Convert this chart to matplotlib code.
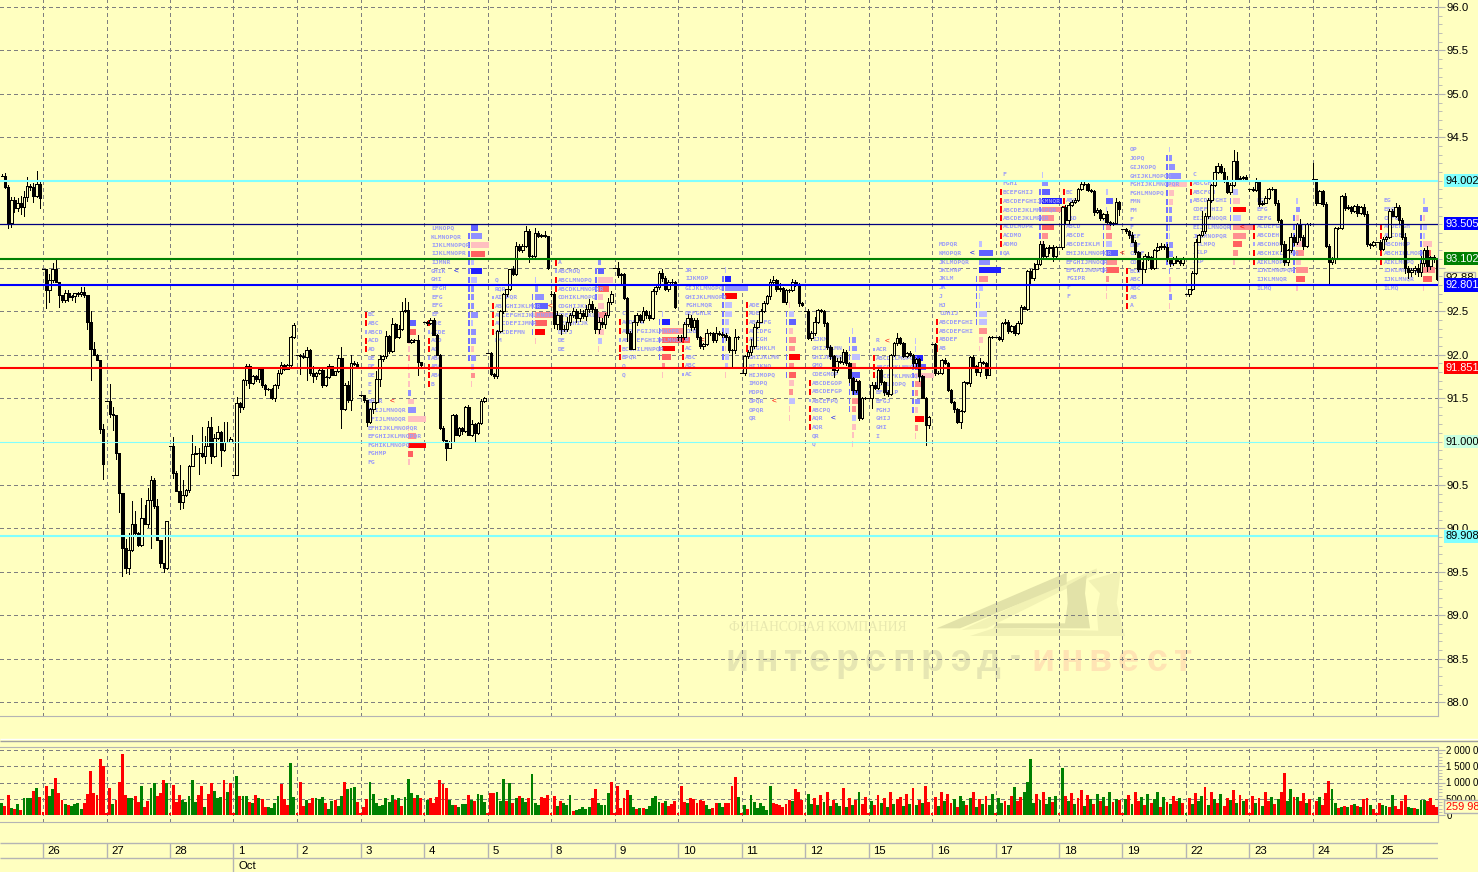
import numpy as np
import matplotlib
matplotlib.use("Agg")
import matplotlib.pyplot as plt
from matplotlib.patches import Polygon

W, H = 1478, 872
BG = "#ffffc0"
GRAY = "#b4b4b4"
GRID = "#7f7f7f"

day_labels = ["26", "27", "28", "1", "2", "3", "4", "5", "8", "9", "10", "11",
              "12", "15", "16", "17", "18", "19", "22", "23", "24", "25"]

# one list per session, first one is the part day on the left edge
close_days = [
    [94.06, 93.93, 93.52, 93.78, 93.69, 93.75, 93.70, 93.81, 93.94, 93.93, 93.83, 93.96, 93.80],
    [92.99, 92.74, 92.86, 92.99, 92.83, 92.69, 92.63, 92.71, 92.66, 92.68, 92.71, 92.70, 92.72, 92.69, 92.38, 92.07, 91.99, 91.94, 91.14, 90.74],
    [91.47, 91.32, 91.31, 90.87, 90.41, 89.78, 89.55, 89.75, 90.05, 89.95, 89.81, 90.12, 90.05, 90.33, 90.56, 90.26, 89.87, 89.60, 89.54, 90.08],
    [90.95, 90.64, 90.43, 90.30, 90.39, 90.44, 90.72, 90.86, 90.87, 90.87, 90.83, 90.95, 91.17, 90.83, 91.04, 91.11, 90.90, 91.00, 91.00, 91.03],
    [90.62, 91.44, 91.40, 91.71, 91.87, 91.67, 91.75, 91.72, 91.83, 91.65, 91.60, 91.60, 91.50, 91.65, 91.79, 91.88, 91.84, 91.88, 92.20, 92.34],
    [92.00, 91.98, 91.97, 92.05, 91.79, 91.75, 91.79, 91.82, 91.65, 91.74, 91.87, 91.77, 91.81, 91.96, 91.37, 91.65, 91.48, 91.90, 91.89, 91.87],
    [91.53, 91.48, 91.23, 91.37, 91.45, 91.72, 91.95, 91.98, 92.21, 92.04, 92.35, 92.20, 92.29, 92.50, 92.51, 92.15, 92.17, 92.17, 91.91, 91.88],
    [92.38, 92.36, 92.40, 92.23, 92.00, 91.15, 91.02, 90.93, 91.00, 91.31, 91.08, 91.15, 91.12, 91.40, 91.08, 91.20, 91.10, 91.21, 91.47, 91.50],
    [92.02, 91.78, 91.75, 92.27, 92.50, 92.70, 92.75, 92.98, 92.93, 93.25, 93.20, 93.25, 93.42, 93.13, 93.13, 93.40, 93.36, 93.38, 93.36, 93.00],
    [92.70, 92.35, 92.45, 92.30, 92.30, 92.38, 92.45, 92.50, 92.42, 92.48, 92.44, 92.52, 92.58, 92.52, 92.30, 92.38, 92.35, 92.45, 92.60, 92.70],
    [93.00, 92.92, 92.93, 92.65, 92.25, 92.07, 92.38, 92.45, 92.40, 92.50, 92.45, 92.42, 92.73, 92.78, 92.94, 92.88, 92.75, 92.84, 92.83, 92.55],
    [92.20, 92.20, 92.35, 92.42, 92.32, 92.40, 92.20, 92.10, 92.12, 92.25, 92.25, 92.17, 92.25, 92.24, 92.22, 92.20, 92.05, 92.05, 92.20, 92.20],
    [91.79, 91.98, 92.03, 92.10, 92.32, 92.38, 92.50, 92.59, 92.67, 92.84, 92.86, 92.75, 92.77, 92.61, 92.74, 92.74, 92.84, 92.80, 92.59, 92.57],
    [92.50, 92.19, 92.25, 92.38, 92.51, 92.50, 92.36, 92.09, 91.98, 91.82, 91.93, 91.92, 92.03, 91.90, 91.73, 91.59, 91.70, 91.27, 91.50, 91.50],
    [91.50, 91.65, 91.62, 91.82, 91.68, 91.57, 91.55, 92.00, 92.13, 92.19, 92.13, 91.98, 92.02, 92.00, 91.90, 91.95, 91.75, 91.50, 91.19, 91.28],
    [92.12, 91.79, 91.79, 91.94, 91.90, 91.59, 91.46, 91.37, 91.22, 91.35, 91.68, 91.67, 91.97, 91.87, 91.80, 91.92, 91.90, 91.77, 92.20, 92.20],
    [92.20, 92.18, 92.36, 92.38, 92.27, 92.33, 92.25, 92.36, 92.55, 92.53, 92.96, 92.88, 92.99, 93.04, 93.27, 93.13, 93.23, 93.24, 93.13, 93.24],
    [93.24, 93.70, 93.55, 93.72, 93.76, 93.78, 93.90, 93.96, 93.96, 93.89, 93.88, 93.64, 93.66, 93.57, 93.62, 93.53, 93.50, 93.52, 93.76, 93.67],
    [93.44, 93.42, 93.38, 93.30, 93.18, 92.98, 92.98, 93.14, 93.12, 93.00, 93.20, 93.24, 93.25, 93.24, 93.10, 93.05, 93.10, 93.08, 93.05, 93.10],
    [92.70, 92.75, 92.94, 93.30, 93.38, 93.42, 93.60, 93.78, 93.95, 94.10, 94.17, 94.10, 94.00, 93.87, 93.95, 94.23, 94.02, 94.03, 94.04, 94.02],
    [93.90, 93.89, 93.99, 93.73, 93.75, 93.80, 93.90, 93.90, 93.75, 93.55, 93.27, 93.06, 93.20, 93.35, 93.30, 93.50, 93.35, 93.25, 93.50, 93.50],
    [94.02, 93.75, 93.88, 93.73, 93.25, 93.06, 93.10, 93.46, 93.46, 93.83, 93.69, 93.70, 93.65, 93.71, 93.63, 93.70, 93.62, 93.27, 93.26, 93.30],
    [93.30, 93.21, 93.33, 93.35, 93.65, 93.60, 93.70, 93.55, 93.35, 93.00, 92.95, 92.97, 93.00, 92.95, 93.05, 93.20, 93.02, 93.12, 93.10, 92.87],
]

# wick lengths in cents above and below the body
wick_up_days = [
    [2, 3, 2, 3, 3, 5, 8, 7, 10, 2, 5, 15, 4],
    [0, 0, 7, 6, 11, 0, 0, 3, 3, 1, 0, 1, 6, 6, 0, 12, 7, 2, 0, 6],
    [0, 19, 8, 0, 0, 0, 10, 20, 26, 15, 1, 23, 15, 14, 4, 2, 8, 0, 0, 1],
    [0, 10, 2, 30, 17, 1, 1, 22, 8, 5, 30, 11, 7, 11, 5, 7, 1, 22, 23, 2],
    [0, 7, 1, 1, 2, 2, 1, 2, 1, 1, 1, 1, 1, 1, 3, 3, 1, 1, 1, 2],
    [0, 1, 4, 4, 2, 8, 1, 2, 3, 1, 2, 0, 0, 3, 13, 2, 5, 9, 3, 2],
    [1, 1, 0, 1, 1, 9, 4, 2, 6, 2, 7, 1, 5, 10, 14, 9, 1, 1, 5, 1],
    [0, 1, 2, 2, 1, 1, 3, 0, 1, 1, 1, 2, 2, 1, 2, 5, 1, 2, 2, 1],
    [0, 1, 1, 1, 1, 1, 0, 1, 4, 5, 2, 2, 6, 2, 2, 6, 2, 1, 4, 1],
    [3, 2, 5, 2, 4, 5, 3, 4, 2, 5, 3, 5, 6, 4, 3, 5, 4, 3, 5, 3],
    [0, 7, 1, 1, 1, 2, 8, 3, 2, 5, 1, 5, 3, 2, 2, 4, 2, 2, 3, 2],
    [2, 3, 2, 5, 3, 2, 2, 1, 1, 5, 1, 1, 7, 2, 2, 3, 1, 1, 9, 1],
    [0, 1, 2, 8, 3, 2, 2, 3, 2, 3, 4, 1, 5, 1, 2, 2, 3, 2, 2, 1],
    [0, 3, 2, 5, 1, 1, 1, 1, 2, 2, 3, 4, 3, 2, 1, 1, 2, 1, 1, 1],
    [0, 3, 4, 1, 4, 2, 2, 1, 2, 6, 1, 2, 1, 2, 1, 1, 1, 1, 1, 1],
    [0, 1, 2, 1, 2, 2, 1, 1, 1, 1, 2, 1, 1, 2, 1, 4, 1, 1, 1, 1],
    [0, 1, 1, 3, 2, 1, 1, 3, 2, 1, 1, 2, 6, 5, 4, 4, 1, 2, 2, 1],
    [0, 1, 2, 2, 2, 2, 2, 3, 4, 2, 1, 1, 3, 2, 1, 3, 1, 1, 4, 1],
    [0, 2, 1, 3, 2, 1, 8, 2, 4, 2, 2, 4, 3, 2, 3, 1, 2, 3, 2, 2],
    [0, 1, 2, 3, 1, 23, 3, 2, 1, 7, 3, 2, 5, 5, 2, 13, 10, 2, 2, 3],
    [1, 3, 4, 1, 2, 3, 2, 3, 1, 3, 1, 4, 2, 5, 3, 2, 6, 3, 1, 1],
    [18, 0, 1, 1, 3, 2, 2, 1, 1, 1, 3, 2, 1, 1, 2, 1, 3, 3, 1, 1],
    [0, 2, 2, 2, 2, 3, 5, 2, 2, 5, 2, 3, 2, 4, 8, 3, 5, 2, 3, 1],
]
wick_dn_days = [
    [1, 1, 6, 5, 5, 4, 8, 10, 4, 4, 7, 2, 11],
    [0, 20, 13, 3, 0, 14, 2, 3, 4, 3, 7, 2, 2, 3, 8, 36, 0, 0, 4, 17],
    [0, 4, 18, 7, 22, 33, 6, 7, 1, 1, 1, 1, 0, 3, 55, 3, 0, 4, 4, 1],
    [0, 6, 0, 8, 6, 2, 2, 0, 0, 24, 1, 8, 0, 8, 1, 1, 18, 1, 1, 1],
    [0, 0, 6, 3, 6, 5, 1, 2, 3, 2, 6, 1, 1, 3, 3, 1, 2, 1, 2, 1],
    [0, 20, 1, 26, 3, 7, 3, 1, 2, 1, 1, 1, 1, 1, 22, 1, 3, 12, 1, 1],
    [1, 2, 5, 2, 4, 1, 8, 2, 2, 2, 1, 1, 1, 1, 1, 1, 2, 2, 14, 1],
    [0, 2, 1, 1, 1, 1, 1, 14, 1, 1, 1, 2, 3, 1, 1, 2, 10, 1, 1, 1],
    [0, 1, 2, 2, 1, 2, 3, 1, 1, 1, 1, 2, 1, 6, 2, 2, 1, 1, 1, 1],
    [2, 4, 5, 6, 3, 3, 4, 2, 5, 3, 2, 4, 3, 3, 5, 5, 3, 4, 2, 2],
    [0, 3, 10, 1, 9, 1, 1, 4, 2, 2, 3, 2, 1, 3, 2, 3, 1, 2, 2, 1],
    [3, 4, 2, 2, 4, 3, 2, 2, 3, 1, 2, 2, 2, 1, 2, 3, 2, 20, 3, 2],
    [0, 2, 2, 3, 2, 1, 1, 1, 1, 3, 3, 2, 2, 1, 3, 2, 1, 1, 3, 1],
    [0, 1, 2, 2, 2, 1, 3, 3, 3, 8, 2, 2, 3, 2, 5, 4, 2, 2, 1, 1],
    [0, 12, 2, 2, 2, 4, 3, 1, 2, 2, 1, 1, 1, 2, 3, 3, 5, 0, 23, 3],
    [0, 2, 1, 1, 1, 1, 2, 3, 1, 7, 1, 1, 3, 2, 3, 5, 1, 4, 1, 1],
    [0, 1, 2, 1, 2, 1, 2, 1, 1, 1, 2, 8, 2, 1, 1, 2, 1, 6, 5, 1],
    [0, 2, 4, 3, 1, 2, 1, 1, 1, 1, 1, 3, 1, 2, 1, 1, 1, 1, 1, 6],
    [0, 2, 4, 1, 2, 2, 17, 3, 3, 2, 1, 1, 3, 2, 2, 3, 2, 3, 2, 2],
    [0, 2, 1, 1, 1, 1, 2, 3, 2, 1, 1, 1, 1, 1, 2, 1, 2, 1, 1, 1],
    [2, 1, 1, 2, 1, 1, 1, 1, 3, 2, 8, 3, 3, 2, 4, 3, 3, 3, 1, 1],
    [0, 3, 1, 2, 1, 25, 2, 5, 1, 2, 3, 1, 2, 1, 3, 1, 2, 2, 3, 1],
    [0, 1, 1, 2, 1, 1, 2, 3, 2, 6, 7, 5, 4, 4, 5, 3, 6, 4, 3, 1],
]

vol_days = [
    [360, 280, 620, 230, 200, 340, 150, 530, 510, 510, 740, 840, 560],
    [100, 900, 570, 800, 1150, 690, 460, 340, 310, 280, 350, 380, 200, 380, 660, 1340, 690, 630, 1730, 1520],
    [70, 840, 340, 460, 1030, 1880, 620, 510, 510, 600, 410, 880, 260, 440, 840, 1000, 570, 690, 1080, 1000],
    [70, 930, 410, 620, 460, 410, 570, 1080, 410, 620, 900, 260, 650, 980, 750, 510, 560, 1080, 720, 1000],
    [70, 1200, 570, 600, 600, 410, 360, 630, 530, 480, 260, 240, 230, 380, 600, 960, 480, 300, 1600, 540],
    [70, 1030, 280, 460, 380, 530, 510, 500, 540, 380, 180, 440, 460, 290, 590, 1020, 800, 840, 870, 410],
    [70, 260, 490, 1020, 640, 380, 290, 320, 530, 410, 610, 460, 530, 290, 560, 1110, 680, 530, 610, 530],
    [70, 460, 530, 380, 560, 1070, 950, 840, 460, 310, 310, 260, 340, 340, 610, 460, 440, 660, 610, 400],
    [70, 680, 680, 710, 440, 1110, 440, 1000, 380, 510, 590, 510, 410, 530, 1270, 380, 320, 560, 510, 610],
    [70, 590, 290, 440, 380, 310, 610, 130, 150, 200, 260, 180, 240, 530, 790, 360, 310, 310, 680, 1020],
    [70, 890, 220, 530, 770, 610, 260, 200, 220, 220, 180, 290, 510, 590, 410, 380, 440, 290, 340, 440],
    [70, 900, 410, 360, 530, 480, 360, 460, 440, 310, 170, 220, 360, 380, 260, 360, 380, 900, 1170, 540],
    [70, 310, 180, 610, 410, 220, 380, 290, 150, 900, 360, 330, 300, 260, 330, 460, 440, 790, 710, 450],
    [70, 650, 330, 520, 300, 620, 410, 720, 280, 450, 380, 280, 820, 260, 520, 310, 450, 700, 340, 560],
    [70, 420, 310, 620, 370, 520, 260, 700, 330, 480, 540, 290, 640, 340, 820, 300, 460, 360, 880, 410],
    [70, 560, 290, 700, 430, 660, 380, 480, 240, 600, 420, 310, 530, 720, 260, 490, 340, 580, 300, 650],
    [70, 520, 380, 430, 310, 600, 850, 420, 550, 700, 1010, 1730, 380, 640, 460, 720, 350, 540, 410, 600],
    [70, 1450, 600, 430, 680, 340, 520, 760, 290, 610, 480, 350, 660, 420, 540, 280, 700, 390, 500, 450],
    [70, 480, 620, 350, 700, 430, 550, 300, 640, 380, 490, 720, 260, 560, 410, 330, 600, 440, 520, 370],
    [70, 520, 340, 680, 430, 590, 860, 310, 720, 480, 380, 640, 290, 530, 450, 770, 360, 610, 420, 500],
    [70, 600, 380, 520, 290, 700, 440, 560, 330, 480, 700, 1290, 440, 790, 550, 550, 420, 690, 380, 480],
    [70, 420, 550, 310, 690, 1060, 810, 380, 230, 260, 290, 240, 310, 340, 290, 260, 480, 510, 320, 200],
    [50, 380, 320, 290, 260, 630, 290, 175, 440, 630, 260, 230, 230, 200, 470, 470, 440, 530, 310, 260],
]
vol_col_days = [
    "grrgrgrgggrgr",
    "rrggrrrgrggggrrrrrrr",
    "rrgrrrrggrrgrrggrrrg",
    "rrrrgggggrrgrrgggrgr",
    "rgrggrgrgrrggggrrrgg",
    "rrrgrrgggrggrggrgggr",
    "rrrggggggggrgrgggrgr",
    "rgrrrrrrggrgggrgrggg",
    "rrrgggrgrgrggrgggrrr",
    "rrgrgggrgggggrrggggr",
    "rrrrrggrgrgggggrgrrr",
    "rrrgrrrrrggrrggrrrrg",
    "rgrgggggggrrrrrrgrrr",
    "rggrgrgrgrggrgrgrgrr",
    "rgrrgrgrgrrgrgrgrgrr",
    "rrgrgrrgrggrgrgrgrgg",
    "rggrgrgrrggggrgrggrg",
    "rgrgrgrrgrgrgrgrgrgr",
    "rgrgrrgrgrggrgrgrrgr",
    "grgrggrgrgrgrrgrgrgr",
    "rrgrgrrgrgrrggrgrrgr",
    "rrgrrrggrgrgrgrgrrgr",
    "rrggrgrrrrggrgggrrrr",
]

# horizontal levels with their labels on the price scale
level_values = [94.002, 93.505, 93.102, 92.801, 91.851, 91.000, 89.908]
level_colors = ["#80ffff", "#000080", "#008000", "#0000ff", "#ff0000", "#80ffff", "#80ffff"]
level_text_colors = ["black", "white", "white", "white", "white", "black", "black"]
level_box_colors = ["#80ffff", "#0000ff", "#008000", "#0000ff", "#ff0000", "#c8ffe0", "#80ffff"]
level_widths = [1.5, 0.9, 1.5, 1.5, 1.5, 0.8, 1.5]
level_labels = ["94.002", "93.505", "93.102", "92.801", "91.851", "91.000", "89.908"]

# letter profiles: session number, top price, rows
tpo_day = [5, 6, 7, 8, 9, 10, 11, 12, 13, 14, 15, 16, 17, 18, 19, 21]
tpo_top = [92.46, 93.46, 92.86, 93.06, 92.47, 92.97, 92.57, 92.27, 92.16, 93.27, 94.07, 93.87, 94.36, 94.07, 93.77, 93.77]
tpo_rows = [
    ["BC", "ABC", "ABCD", "ACD", "AD", "DE", "DE", "DE", "E", "E", "BHMR", "EFIJLMNOQR", "BFIJLMNOQR", "EFHIJKLMNOPQR", "EFGHIJKLMNOPQR", "FGHIKLMNOPQ", "FGHMP", "FG"],
    ["LMNOPQ", "KLMNOPQR", "IJKLMNOPQR", "IJKLMNOPR", "IJMNR", "GHIK", "GHI", "EFGH", "EFG", "EFG", "EF", "ADE", "ACDE", "ACD", "AC", "ABC", "ABC", "ABC", "B"],
    ["Q", "RQR", "AIJPQR", "ABFGHIJKLMQR", "ABCEFGHIJKLMNOPQ", "ABCDEFIJMNR", "ABCDEFMN", "DM"],
    ["A", "ABCMOQ", "ABCLMNOPQ", "ABCDKLMNOPQR", "CDHIKLMOPQ", "CDGHIJKLQ", "CDEFGHIJKLQ", "DEFGHIJK", "DEFJ", "DE", "DE"],
    ["C", "ACDEFR", "ABDEFGIJKLMNOPR", "ABCDEFGHIJKLMNOQ", "BCGHILMNPQR", "BPQR", "Q", "Q"],
    ["JR", "IJKMOP", "GIJKLMNOPQ", "GHIJKLMNOPQ", "FGHLMQR", "DEFGHLR", "DEH", "CDB", "B", "AC", "ABC", "ABC", "AC"],
    ["ADE", "ADEF", "ABCDFG", "ABCDFG", "ABCGH", "BCGHKLM", "GHIJKLMN", "HIJKNQ", "HIJMOPQ", "IMOPQ", "MOPQ", "OPQR", "OPQR", "QR"],
    ["J", "IJKM", "GHIJKLMN", "GHIJKLMN", "GMO", "CDEGMOP", "ABCDEGOP", "ABCDEFGP", "ABCEFPQ", "ABCPQ", "AQR", "AQR", "QR", "Q"],
    ["R", "ACR", "ABCDELMOPQR", "ABCDEKLMNOQR", "ABCEFKLMNOQR", "BJKLMOPQ", "BFJKLP", "BFGJ", "FGHJ", "GHIJ", "GHI", "I"],
    ["MOPQR", "KMOPQR", "JKLMOPQR", "JKLMNP", "JKLM", "JK", "J", "HJ", "CDHIJ", "ABCDEFGHI", "ABCDEFGHI", "ABDEF", "AB"],
    ["F", "FGHI", "BCEFGHIJ", "ABCDEFGHIJKMNQR", "ABCDEJKLMNOPQR", "ABCDEJKLMPQR", "ACDLMOPR", "ACDMO", "ADMO", "QA"],
    ["BC", "ABC", "A", "ABD", "ABCD", "ABCDE", "ABCDEIKLM", "EHIJKLMNOPQR", "EFGHIJMNOQR", "EFGHIJNOPQR", "FGIPR", "F", "F"],
    ["OP", "JOPQ", "GIJKOPQ", "GHIJKLMOPQR", "FGHIJKLMNOPQR", "FGHLMNOPQ", "FMN", "FM", "F", "F", "DEF", "DEF", "CDEF", "CDE", "BCD", "ABC", "ABC", "AB", "A"],
    ["C", "ABCGH", "ABCFGH", "ABCDEFGHI", "CDEFGHIJ", "EIJLMNOQR", "EIJKLMNOQR", "JKLMNOPQR", "JKLMPQ", "JKLP", "JKP"],
    ["EG", "EFG", "CEFG", "ACDEFGH", "ABCDEH", "ABCDHOP", "ABCHIKLMOPQ", "AIKLMOPQ", "IJKLMNOPQR", "IJKLMNQR", "ILMQ"],
    ["EG", "EFG", "CEFG", "ACDEFGH", "ABCDEH", "ABCDHOP", "ABCHIKLMOPQ", "AIKLMOPQ", "IJKLMNOPQR", "IJKLMNQR", "ILMQ"],
]
tpo_widths = [
    [2, 8, 8, 2, 2, 2, 1, 2, 2, 3, 6, 8, 18, 1, 8, 18, 5, 2],
    [7, 11, 18, 14, 3, 11, 6, 3, 3, 3, 7, 2, 5, 5, 3, 5, 3, 4, 1],
    [1, 3, 9, 13, 20, 12, 10, 1],
    [3, 6, 15, 11, 5, 6, 9, 4, 6, 4, 1],
    [1, 8, 25, 28, 13, 9, 3, 1],
    [1, 6, 23, 12, 7, 7, 4, 4, 1, 1, 4, 3, 1],
    [1, 5, 7, 4, 7, 6, 11, 5, 7, 5, 4, 6, 1, 1],
    [1, 4, 5, 8, 4, 8, 6, 9, 8, 4, 4, 4, 2, 1],
    [1, 1, 8, 11, 18, 9, 3, 5, 3, 9, 3, 1],
    [3, 14, 11, 22, 9, 4, 1, 1, 8, 8, 8, 4, 1],
    [1, 6, 8, 20, 22, 12, 12, 6, 2, 1],
    [2, 7, 1, 2, 5, 6, 6, 12, 11, 13, 3, 1, 1],
    [1, 3, 6, 12, 18, 5, 4, 3, 3, 1, 1, 4, 4, 4, 1, 2, 2, 3, 1],
    [1, 1, 5, 7, 13, 8, 22, 13, 9, 5, 2],
    [2, 4, 3, 7, 3, 9, 8, 5, 12, 9, 2],
    [2, 5, 2, 4, 2, 9, 8, 5, 12, 9, 1],
]
tpo_shades = ["bcgeefeeebebeefhge", "cbegadabbbbabbebafe", "abbcfghe", "bcegeefeeae", "adfghgfe",
              "adbhaaaaaeaae", "eaceffhfgefaee", "abbafcecffaeee", "aadceffbehfe", "acbdfaaaaafee",
              "abcdffgfea", "acabffacfgfee", "abbbeeebbaabbbbeebe", "aaaehaffgfe", "abeaaefefge", "abeaaegefge"]
tpo_marks = ["rrbrr.............", "...........rbrrbrrr", "..brrrr.", "rbrr..b....", ".rrbrr..",
             "........rrrrb", "rrrrrr........", "......rrbrrr..", ".brrr.......", ".........rrrr",
             "..rrrrrrrb", "rrrrrrr......", "..............rrrrr", ".rrb.......", "...rrbrr...", "...rrbrr..."]
tpo_va = [None, (1, 15), (2, 6), (1, 4), (1, 5), (1, 10), (1, 8), (1, 9), (2, 8), (4, 9),
          (2, 7), (3, 9), (1, 13), (2, 6), (2, 8), (2, 8)]
tpo_arrows = [(0, 10, 25, "red"), (1, 5, 25, "blue"), (2, 3, 56, "red"), (5, 8, 17, "red"), (6, 11, 26, "red"),
              (7, 10, 21, "blue"), (8, 0, 12, "red"), (9, 1, 33, "blue"), (11, 7, 56, "red"), (13, 6, 49, "red")]
shade_colors = {"a": "#c0c0ff", "b": "#9090ff", "c": "#6060ff", "d": "#2020ff",
                "e": "#ffc0c0", "f": "#ff9090", "g": "#ff6060", "h": "#ff0000"}

close = np.array(sum(close_days, []))
high_w = np.array(sum(wick_up_days, [])) / 100
low_w = np.array(sum(wick_dn_days, [])) / 100
volume = np.array(sum(vol_days, []))
vol_colors = ["#ff0000" if c == "r" else "#008000" for c in "".join(vol_col_days)]

bars = np.arange(len(close))
PX = 63.5 / 20
first = len(close_days[0])
grid_x = first + 20 * np.arange(len(day_labels))

openp = np.r_[close[0], close[:-1]]
openp[grid_x] = close[grid_x]
top = np.maximum(openp, close)
bot = np.minimum(openp, close)
xlim = (first - 43 / PX, first + (1438 - 43) / PX)
DASH = (0, (4, 3))
LBL = 7.9


def panel(y0, y1, zorder=1):
    a = fig.add_axes([0, 1 - y1 / H, 1438 / W, (y1 - y0) / H])
    a.set_facecolor("none")
    a.set_zorder(zorder)
    a.set_xlim(xlim)
    for s in a.spines.values():
        s.set_visible(False)
    return a


fig = plt.figure(figsize=(W / 100, H / 100), dpi=100, facecolor=BG)
plt.rcParams["font.family"] = ["Liberation Sans", "DejaVu Sans"]

# watermark sits under everything
bg = fig.add_axes([0, 0, 1, 1])
bg.set_zorder(0)
bg.set_xlim(0, W)
bg.set_ylim(H, 0)
bg.axis("off")


def crop(pts):
    return [(700 + x / 3, 560 + y / 3) for x, y in pts]


bg.add_patch(Polygon(crop([(1165, 62), (1262, 33), (1250, 130), (1275, 228), (810, 228), (880, 205), (1195, 212), (1190, 150), (1200, 100)]), color="#f2f2b4", lw=0))
bg.add_patch(Polygon(crop([(785, 210), (1190, 25), (1192, 40), (860, 205)]), color="#f2f2b4", lw=0))
bg.add_patch(Polygon(crop([(710, 205), (1100, 38), (1100, 72), (780, 205)]), color="#e2e2a8", lw=0))
bg.add_patch(Polygon(crop([(1095, 190), (1103, 130), (1100, 78), (1160, 45), (1155, 100), (1170, 205), (880, 205), (890, 190)]), color="#e2e2a8", lw=0))
bg.text(729, 627, "ФИНАНСОВАЯ КОМПАНИЯ", family="Liberation Serif", fontsize=9.8, color="#e8e8b0", va="center")
for lx, ch in zip([112, 200, 280, 358, 440, 525, 610, 695, 780, 865], "интерспрэд"):
    bg.text(700 + lx / 3, 671, ch, fontsize=27, weight="bold", color="#e6e6b2", ha="center", va="baseline")
bg.text(700 + 945 / 3, 666, "-", fontsize=24, weight="bold", color="#e6e6b2", ha="center", va="baseline")
for lx, ch in zip([1030, 1115, 1200, 1285, 1370, 1450], "инвест"):
    bg.text(700 + lx / 3, 671, ch, fontsize=27, weight="bold", color="#ffe4b4", ha="center", va="baseline")

# price panel
ax = panel(0, 716, zorder=1)
ax.set_ylim(96 - 709 / 86.9, 96 + 7 / 86.9)
for g in grid_x:
    ax.axvline(g, color=GRID, lw=0.72, ls=DASH, antialiased=False, zorder=1)
for p in np.arange(88, 96.5, 0.5):
    ax.axhline(p, color=GRID, lw=0.72, ls=DASH, antialiased=False, zorder=1)

# letter profiles
for n, rows in enumerate(tpo_rows):
    x0 = first + 20 * tpo_day[n] + 7 / PX
    bx = x0 + 40 / PX
    levels = tpo_top[n] - 0.1 * np.arange(len(rows))
    ax.barh(levels, np.array(tpo_widths[n]) / PX, left=bx, height=0.068,
            color=[shade_colors[c] for c in tpo_shades[n]], zorder=2, antialiased=False)
    for lev, txt, m in zip(levels, rows, tpo_marks[n]):
        ax.text(x0, lev, txt, family="DejaVu Sans Mono", weight="bold", fontsize=4.6, color="#9c9cf8",
                va="center", ha="left", zorder=2.5)
        if m == "r":
            ax.barh(lev, 2 / PX, left=x0 - 3 / PX, height=0.07, color="#ff0000", zorder=2, antialiased=False)
        elif m == "b":
            ax.barh(lev, 2 / PX, left=x0 - 3 / PX, height=0.04, color="#a4a4fa", zorder=2, antialiased=False)
    if tpo_va[n]:
        a, b = tpo_va[n]
        ax.barh(levels[a:b + 1], 1.5 / PX, left=bx - 3 / PX, height=0.068, color="#7070ff", zorder=2, antialiased=False)
for n, r, off, col in tpo_arrows:
    x0 = first + 20 * tpo_day[n] + 7 / PX
    ax.text(x0 + off / PX, tpo_top[n] - 0.1 * r, "<", fontsize=6, color=col, va="center", ha="center", zorder=2.5)

# candles
ax.vlines(bars, bot - low_w, top + high_w, color="black", lw=0.72, antialiased=False, zorder=3)
up = close > openp
ax.bar(bars[~up], (top - bot)[~up], bottom=bot[~up], width=0.72, color="black", edgecolor="black", lw=0.72, antialiased=False, zorder=3.2)
ax.bar(bars[up], (top - bot)[up], bottom=bot[up], width=0.85, color=BG, edgecolor="black", lw=0.72, antialiased=False, zorder=3.2)

for val, col, lw in zip(level_values, level_colors, level_widths):
    ax.axhline(val, color=col, lw=lw, zorder=4)

# price scale on the right
ax.yaxis.tick_right()
major = [96.0, 95.5, 95.0, 94.5, 93.0, 92.5, 92.0, 91.5, 90.5, 90.0, 89.5, 89.0, 88.5, 88.0]
ax.set_yticks(major)
ax.set_yticklabels(["%.1f" % p if p != 93.0 else "" for p in major], fontsize=8.2)
ax.set_yticks(np.arange(88, 96.05, 0.1), minor=True)
ax.tick_params(axis="y", which="major", length=5, color=GRAY, pad=1)
ax.tick_params(axis="y", which="minor", length=3, color=GRAY)
ax.tick_params(axis="x", bottom=False, labelbottom=False)
ax.spines["right"].set_visible(True)
ax.spines["right"].set_color(GRAY)
ax.spines["bottom"].set_visible(True)
ax.spines["bottom"].set_color(GRAY)

label_x = xlim[0] + 1445.5 / PX
ax.text(label_x, 93.11, "93.11", fontsize=8.2, va="center", clip_on=False, zorder=5)
ax.text(label_x, 92.88, "92.88", fontsize=8.2, va="center", clip_on=False, zorder=6,
        bbox=dict(boxstyle="square,pad=0.12", fc=BG, ec=GRAY, lw=1))
for val, lab, tc, bc in zip(level_values, level_labels, level_text_colors, level_box_colors):
    ax.text(label_x, val, lab, fontsize=LBL, color=tc, va="center", clip_on=False, zorder=7,
            bbox=dict(boxstyle="square,pad=0.15", fc=bc, ec="none"))

# volume panel
vx = panel(747, 822, zorder=1)
vx.set_ylim((815 - 822) * 2000 / 65, (815 - 747) * 2000 / 65)
for g in grid_x:
    vx.axvline(g, color=GRID, lw=0.72, ls=DASH, antialiased=False, zorder=1)
for v in [500, 1000, 1500, 2000]:
    vx.axhline(v, color=GRID, lw=0.72, ls=DASH, antialiased=False, zorder=1)
vx.bar(bars, volume, width=0.9, color=vol_colors, antialiased=False, zorder=3)
vx.yaxis.tick_right()
vx.set_yticks([0, 500, 1000, 1500, 2000])
vx.set_yticklabels(["0", "500 00", "1 000 0", "1 500 0", "2 000 0"], fontsize=7)
vx.tick_params(axis="y", length=5, color=GRAY, pad=1)
vx.set_yticks(np.arange(0, 2001, 100), minor=True)
vx.tick_params(axis="y", which="minor", length=3, color=GRAY)
vx.tick_params(axis="x", bottom=False, labelbottom=False)
for s in vx.spines.values():
    s.set_visible(True)
    s.set_color(GRAY)
vx.spines["left"].set_visible(False)
vx.text(label_x, 260, "259 98", fontsize=LBL, color="#ff0000", va="center", clip_on=False, zorder=6,
        bbox=dict(boxstyle="square,pad=0.12", fc=BG, ec=GRAY, lw=1))

# date band
dx = panel(822, 872, zorder=1)
dx.set_ylim(872, 822)
dx.axis("off")
dx.hlines([843, 858], xlim[0], xlim[1], color=GRAY, lw=1)
dx.vlines(grid_x, 843, 858, color=GRAY, lw=1)
for g, d in zip(grid_x, day_labels):
    dx.text(g + 1.5, 851, d, fontsize=8.2, va="center", ha="left")
oct_x = grid_x[day_labels.index("1")]
dx.vlines(oct_x, 858, 872, color=GRAY, lw=1)
dx.text(oct_x + 1.5, 866, "Oct", fontsize=8.2, va="center", ha="left")

# separator bars between the panels
bg.hlines(739, 0, W, color="white", lw=1)
bg.hlines(741, 0, W, color="#a0a0a0", lw=1)

fig.savefig("out.png", dpi=100, facecolor=BG)
